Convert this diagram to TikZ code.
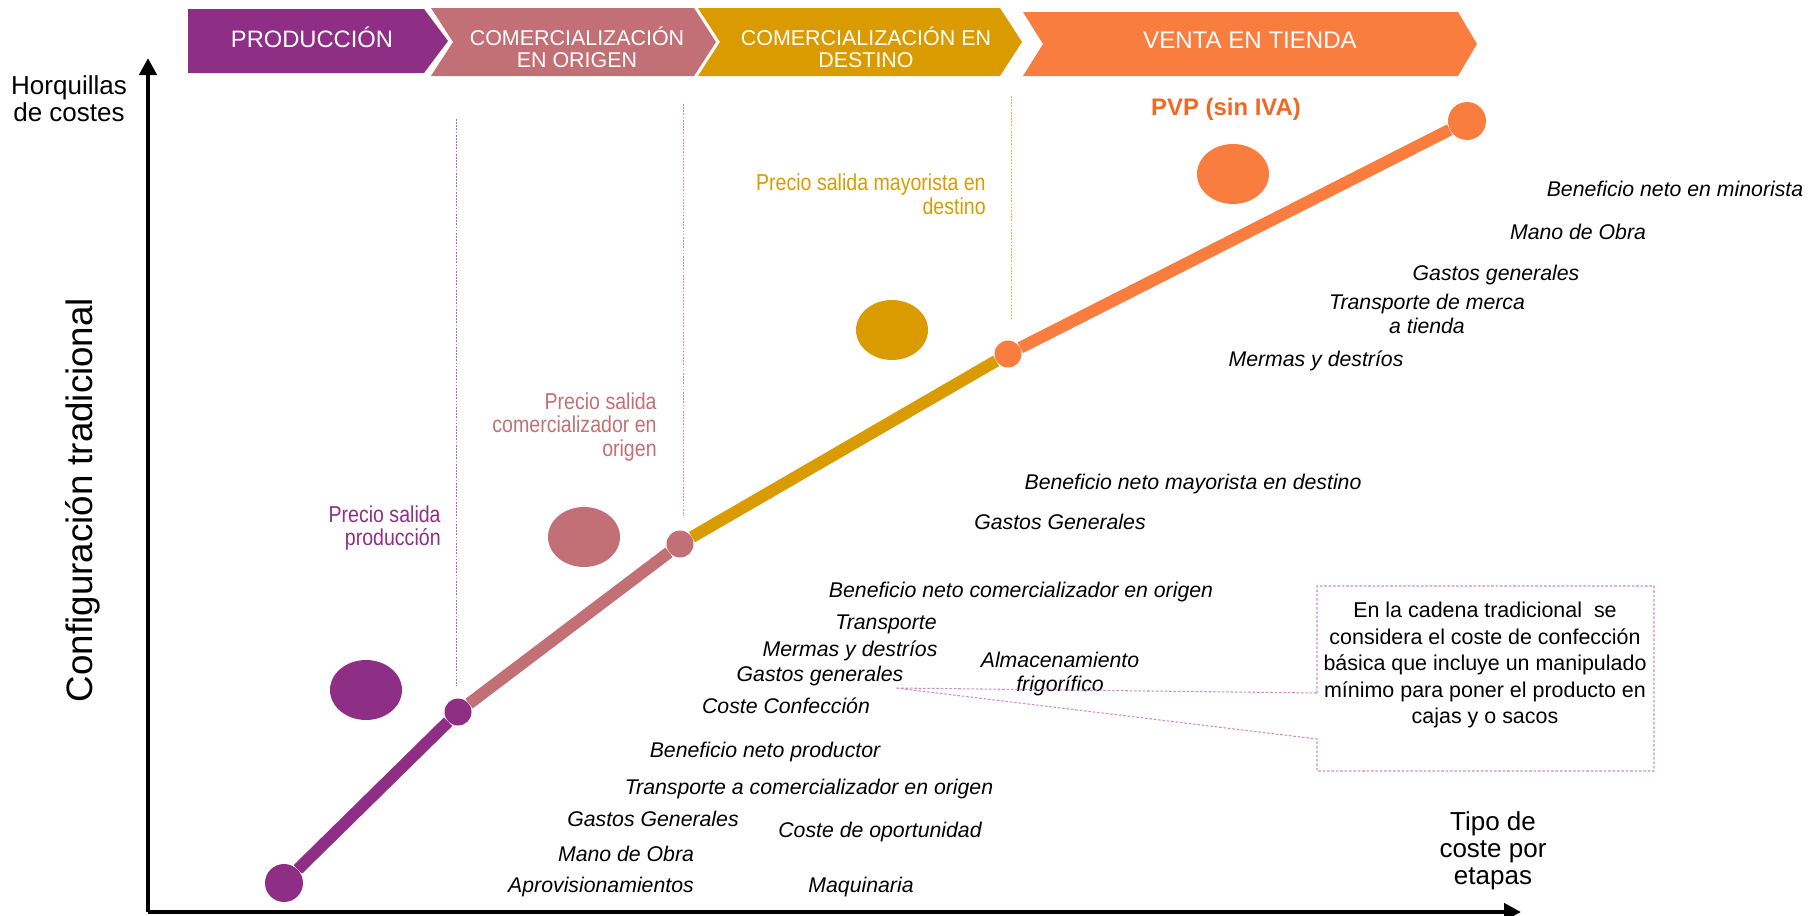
\documentclass[tikz,border=0pt]{standalone}
\usepackage{fontspec}
\setmainfont{Liberation Sans}
\newfontfamily\narrowsf[FakeStretch=0.85]{Liberation Sans}
\usepackage{tikz}
\usetikzlibrary{calc,arrows.meta,shapes.geometric}
\definecolor{prodc}{RGB}{142,47,133}
\definecolor{origc}{RGB}{194,112,117}
\definecolor{destc}{RGB}{217,155,0}
\definecolor{ventac}{RGB}{249,125,63}
\definecolor{pvpc}{RGB}{240,104,34}
\definecolor{notec}{RGB}{204,140,204}
\def\costnode{\node[cost]}
\def\drawstage{\draw[line width=2.4mm]}
% chevron: colour, left, notch, right, tip, top, bottom
\newcommand\chevron[7]{\fill[#1] (#2,#6) -- (#4,#6) -- (#5,{(#6+#7)/2}) -- (#4,#7) -- (#2,#7) -- (#3,{(#6+#7)/2}) -- cycle;}

\begin{document}
\begin{tikzpicture}[x=0.2mm,y=-0.2mm,
  cost/.style={font=\fontsize{12.1}{13.7}\selectfont\itshape,inner sep=0pt,align=center},
  price/.style={font=\narrowsf\fontsize{13.1}{13.6}\selectfont,inner sep=0pt,align=right,anchor=east},
  stage/.style={text=white,font=\fontsize{12.2}{12.5}\selectfont,align=center,inner sep=0pt},
  axislabel/.style={font=\fontsize{14.8}{15.3}\selectfont,align=center,inner sep=0pt},
  dot/.style={circle,inner sep=0pt,minimum size=5.4mm},
  bigdot/.style={circle,inner sep=0pt,minimum size=7.6mm},
  blob/.style={ellipse,inner sep=0pt,minimum width=14.4mm,minimum height=12mm},
  guide/.style={line width=0.5pt,dash pattern=on 1pt off 0.8pt},
  note/.style={notec,line width=0.6pt,dash pattern=on 1.5pt off 1pt}]
\useasboundingbox (0,0) rectangle (1810,916);

% Stage banners
\chevron{prodc}{188}{188}{424}{448}{9}{73}
\chevron{origc}{431}{453}{694}{716}{8}{76}
\chevron{destc}{698}{720}{1000}{1022}{8}{76}
\chevron{ventac}{1023}{1043}{1458}{1477}{12}{76}
\node[stage,font=\fontsize{13.5}{14}\selectfont] (prod) at (312,37) {PRODUCCIÓN};
\node[stage] (orig) at (577,47) {COMERCIALIZACIÓN\\EN ORIGEN};
\node[stage] (dest) at (866,47) {COMERCIALIZACIÓN EN\\DESTINO};
\node[stage,font=\fontsize{13.7}{14}\selectfont] (venta) at (1250,40) {VENTA EN TIENDA};

% Axes, from the corner (o)
\coordinate (o) at (148,912);
\coordinate (ytop) at ($ (o) + (0,-854) $);
\coordinate (xend) at ($ (o) + (1373,0) $);
\draw[line width=0.9mm,-{Triangle[length=3.4mm,width=3.4mm]}] (o) to (ytop);
\draw[line width=0.9mm,-{Triangle[length=3.4mm,width=3.4mm]}] (o) to (xend);
\node[axislabel] (ylab) at (69,99) {Horquillas\\de costes};
\node[axislabel] (xlab) at (1493,851) {Tipo de\\coste por\\etapas};
\node[font=\fontsize{20.9}{22}\selectfont,rotate=90,inner sep=0pt] (conf) at (83,500) {Configuración tradicional};

% Guides up from the price points
\draw[guide,prodc!70] (456,119) -- (456,686);
\draw[guide,origc!80!magenta!70] (683,104) -- (683,516);
\draw[guide,destc!70] (1011,96) -- (1011,320);

% Price line
\node[bigdot,fill=prodc] (p0) at (284,883) {};
\node[dot,fill=prodc] (p1) at (458,712) {};
\node[dot,fill=origc] (p2) at (680,544) {};
\node[dot,fill=ventac] (p3) at (1008,354) {};
\node[bigdot,fill=ventac] (p4) at (1467,121) {};
\drawstage[prodc] (p0) to (p1);
\drawstage[origc] (p1) to (p2);
\drawstage[destc] (p2) to (p3);
\drawstage[ventac] (p3) to (p4);

\node[blob,fill=prodc] (bprod) at (366,690) {};
\node[blob,fill=origc] (borig) at (584,537) {};
\node[blob,fill=destc] (bdest) at (892,330) {};
\node[blob,fill=ventac] (bventa) at (1233,174) {};

% Price labels
\node[price,text=prodc] (lprod) at (441,528) {Precio salida\\producción};
\node[price,text=origc] (lorig) at (657,427) {Precio salida\\comercializador en\\origen};
\node[price,text=destc] (ldest) at (986,194) {Precio salida mayorista en\\destino};
\node[font=\bfseries\fontsize{13.6}{14}\selectfont,text=pvpc,inner sep=0pt] (pvp) at (1226,109) {PVP (sin IVA)};

% Costs, shop
\costnode (c1) at (1675,189) {Beneficio neto en minorista};
\costnode (c2) at (1578,232) {Mano de Obra};
\costnode (c3) at (1496,275) {Gastos generales};
\costnode (c4) at (1427,314) {Transporte de merca\\a tienda};
\costnode (c5) at (1316,361) {Mermas y destríos};
% Costs, wholesale at destination
\costnode (c6) at (1193,484) {Beneficio neto mayorista en destino};
\costnode (c7) at (1060,522) {Gastos Generales};
% Costs, origin
\costnode (c8) at (1021,592) {Beneficio neto comercializador en origen};
\costnode (c9) at (886,624) {Transporte};
\costnode (c10) at (850,651) {Mermas y destríos};
\costnode (c11) at (820,676) {Gastos generales};
\costnode (c12) at (1060,674) {Almacenamiento\\frigorífico};
\costnode (c13) at (786,706) {Coste Confección};
% Costs, production
\costnode (c14) at (765,752) {Beneficio neto productor};
\costnode (c15) at (809,789) {Transporte a comercializador en origen};
\costnode (c16) at (653,819) {Gastos Generales};
\costnode (c17) at (880,832) {Coste de oportunidad};
\costnode (c18) at (626,854) {Mano de Obra};
\costnode (c19) at (601,887) {Aprovisionamientos};
\costnode (c20) at (861,887) {Maquinaria};

% Note on the packing cost
\coordinate (tip) at ($ (c11.east) + (-8,12) $);
\draw[note] (1317,693) -- (1317,586) -- (1654,586) -- (1654,771) -- (1317,771) -- (1317,739) -- (tip) -- cycle;
\node[font=\fontsize{12.2}{15.1}\selectfont,align=center,inner sep=0pt] (nota) at (1485,665) {En la cadena tradicional\ \ se\\considera el coste de confección\\básica que incluye un manipulado\\mínimo para poner el producto en\\cajas y o sacos};
\end{tikzpicture}
\end{document}
